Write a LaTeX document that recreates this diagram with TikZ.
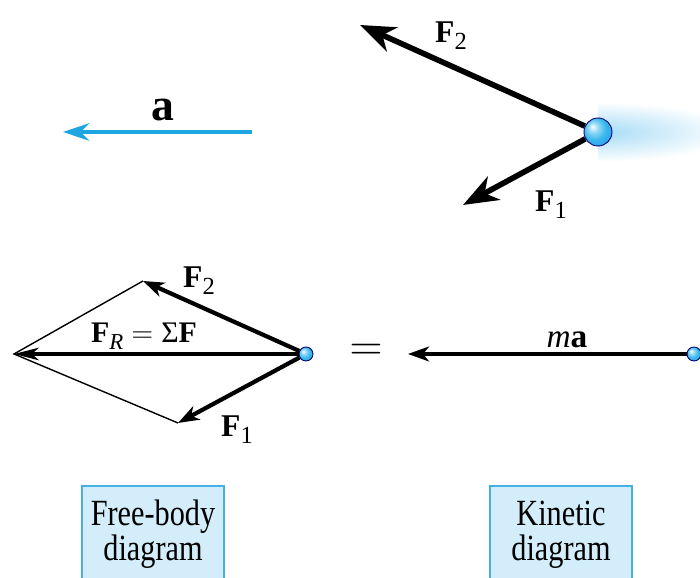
\documentclass[tikz,border=0pt]{standalone}
\usepackage{fix-cm}
\usepackage[no-math]{fontspec}
\setmainfont{Liberation Serif}
\newfontfamily\capfont{Liberation Serif}[FakeStretch=0.82]
\usetikzlibrary{arrows.meta}

\definecolor{accblue}{HTML}{1DA6E2}
\definecolor{boxfill}{HTML}{D3EDFA}
\definecolor{boxline}{HTML}{45B0E5}
\definecolor{ballblue}{HTML}{38B8EC}
\definecolor{trailblue}{HTML}{A6DBF6}
\pgfdeclareradialshading{glassball}{\pgfpoint{-10bp}{10bp}}{color(0bp)=(white);
  color(9bp)=(ballblue!55!white); color(20bp)=(ballblue); color(38bp)=(ballblue!80!blue);
  color(50bp)=(ballblue!80!blue)}
\newcommand{\lsub}[1]{\raisebox{-4pt}{\fontsize{14}{14}\selectfont #1}}

\begin{document}
\begin{tikzpicture}[
  bigforce/.style={line width=3.2pt, -{Stealth[length=20pt,width=15pt,inset=6pt]}},
  force/.style={line width=2.4pt, -{Stealth[length=12pt,width=8.5pt,inset=3.5pt]}},
  particle/.style={circle, inner sep=0pt, draw=blue!45!black, line width=0.5pt, shading=glassball},
  lbl/.style={font=\fontsize{18}{18}\selectfont},
  caption/.style={draw=boxline, fill=boxfill, line width=1.2pt, minimum width=2.84cm,
    minimum height=1.94cm, align=center, font=\capfont\fontsize{21}{20}\selectfont},
]
  \clip (0,0) rectangle (14,11.56);

  % motion of the particle
  \coordinate (a0) at (5.04,8.92);
  \coordinate (a1) at (1.26,8.92);
  \draw[accblue, line width=2.2pt, -{Stealth[length=15pt,width=10pt,inset=5pt]}] (a0) -- (a1);
  \node[font=\fontsize{26}{26}\selectfont\bfseries] (alab) at (3.26,9.36) {a};

  \begin{scope}
    \clip (11.96,8.2) rectangle (14,9.6);
    \shade[inner color=trailblue, outer color=white] (11.96,8.92) ellipse [x radius=2.7cm, y radius=0.6cm];
  \end{scope}
  \node[particle, minimum size=0.56cm] (p1) at (11.96,8.92) {};
  \coordinate (f2a) at (7.2,11.06);
  \coordinate (f1a) at (9.26,7.46);
  \draw[bigforce] (p1) -- (f2a);
  \draw[bigforce] (p1) -- (f1a);
  \node[lbl] (f2lab) at (9.02,10.84) {\textbf{F}\lsub{2}};
  \node[lbl] (f1lab) at (11.02,7.46) {\textbf{F}\lsub{1}};

  % free-body diagram
  \node[particle, minimum size=0.28cm] (p2) at (6.12,4.48) {};
  \coordinate (fr) at (0.28,4.48);
  \coordinate (f2b) at (2.86,5.94);
  \coordinate (f1b) at (3.56,3.1);
  \draw[line width=0.8pt] (f2b) -- (fr) -- (f1b);
  \draw[force, -{Stealth[length=14pt,width=7pt,inset=4pt]}] (p2) -- (fr);
  \draw[force] (p2) -- (f2b);
  \draw[force] (p2) -- (f1b);
  \node[lbl] (f2blab) at (3.98,5.94) {\textbf{F}\lsub{2}};
  \node[lbl] (f1blab) at (4.74,2.96) {\textbf{F}\lsub{1}};
  \node[font=\fontsize{17}{17}\selectfont] (frlab) at (2.88,4.84)
    {\textbf{F}\raisebox{-4pt}{\fontsize{13}{13}\selectfont\itshape R}${}={}$Σ\textbf{F}};

  \node[font=\fontsize{26}{26}\selectfont] (eq) at (7.32,4.52) {$=$};

  % kinetic diagram
  \node[particle, minimum size=0.28cm] (p3) at (13.88,4.48) {};
  \coordinate (mat) at (8.16,4.48);
  \draw[force, line width=1.9pt] (p3) -- (mat);
  \node[font=\fontsize{19}{19}\selectfont] (malab) at (11.34,4.76) {\textit{m}\textbf{a}};

  \node[caption] (fbd) at (3.06,0.87) {Free-body\\diagram};
  \node[caption] (kd) at (11.22,0.87) {Kinetic\\diagram};
\end{tikzpicture}
\end{document}
